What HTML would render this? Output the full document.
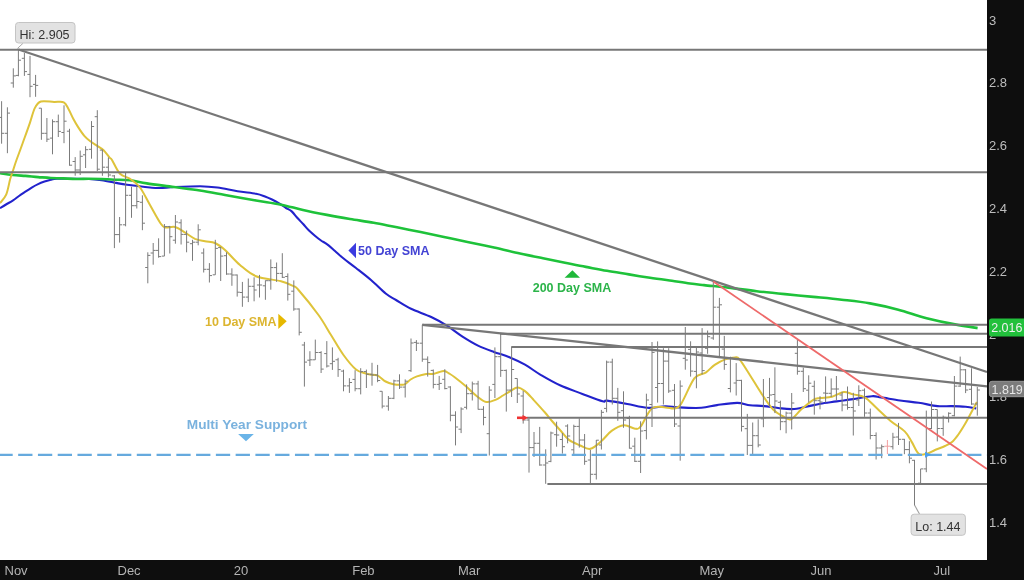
<!DOCTYPE html>
<html><head><meta charset="utf-8"><style>
html,body{margin:0;padding:0;background:#fff;}
body{width:1024px;height:580px;overflow:hidden;position:relative;font-family:"Liberation Sans",sans-serif;}
svg{position:absolute;left:0;top:0;will-change:transform;}
</style></head><body>
<svg width="1024" height="580" viewBox="0 0 1024 580">
<rect x="0" y="0" width="1024" height="580" fill="#ffffff"/>
<path d="M0.0 208.2C1.0 207.6 3.9 205.8 6.0 204.5C8.1 203.2 10.5 202.0 12.7 200.6C14.9 199.2 16.9 197.5 19.0 196.0C21.1 194.5 23.3 193.1 25.4 191.7C27.5 190.3 29.6 188.9 31.7 187.6C33.8 186.3 36.0 185.1 38.1 184.1C40.2 183.1 42.4 182.3 44.5 181.6C46.6 180.9 48.7 180.2 50.8 179.7C52.9 179.2 52.9 179.0 57.1 178.8C61.3 178.7 70.9 178.8 76.2 178.8C81.5 178.8 84.7 178.8 88.9 179.0C93.1 179.2 97.4 179.7 101.6 180.3C105.8 180.9 110.1 181.8 114.3 182.6C118.5 183.3 121.0 184.0 127.0 184.8C132.9 185.6 144.5 187.0 150.0 187.5C155.5 188.0 155.8 188.1 160.0 188.0C164.2 187.9 168.3 187.3 175.0 187.0C181.7 186.7 192.9 186.2 200.0 186.2C207.1 186.3 211.2 186.7 217.5 187.5C223.8 188.3 231.1 190.2 237.5 191.2C243.9 192.3 251.4 192.9 256.0 193.8C260.6 194.6 262.3 195.5 265.0 196.5C267.7 197.5 269.5 198.3 272.0 199.5C274.5 200.7 277.7 202.5 280.0 203.9C282.3 205.3 284.1 206.8 286.0 208.0C287.9 209.2 289.9 209.8 291.7 211.4C293.5 213.0 295.1 215.3 297.0 217.5C298.9 219.7 301.4 222.1 303.4 224.3C305.4 226.5 307.0 228.6 309.0 230.5C311.0 232.4 313.2 234.3 315.2 236.0C317.2 237.7 319.1 239.1 321.0 240.5C322.9 241.9 324.6 242.4 326.9 244.2C329.2 245.9 332.3 248.7 335.0 251.0C337.7 253.3 339.8 255.5 343.3 258.3C346.8 261.1 351.4 264.4 356.0 268.0C360.6 271.6 366.0 275.7 371.0 280.0C376.0 284.3 381.8 290.4 386.0 293.8C390.2 297.1 391.8 297.5 396.0 300.0C400.2 302.5 405.1 305.9 411.0 308.8C416.9 311.6 425.3 314.2 431.2 317.0C437.2 319.8 441.7 322.3 446.9 325.6C452.1 328.9 457.3 333.3 462.5 336.6C467.7 339.9 472.8 343.1 478.0 345.6C483.2 348.2 488.5 350.0 493.8 351.9C499.0 353.8 504.2 355.1 509.4 357.2C514.6 359.3 519.8 361.8 525.0 364.7C530.2 367.6 534.8 371.4 540.6 374.8C546.4 378.2 553.0 382.1 560.0 385.3C567.0 388.5 575.3 391.2 582.4 393.9C589.5 396.6 598.5 400.2 602.6 401.3C606.7 402.4 602.9 400.2 607.0 400.6C611.1 401.1 620.6 402.8 627.3 404.0C634.0 405.2 641.0 407.4 647.4 407.8C653.8 408.2 660.2 406.3 665.4 406.2C670.6 406.1 672.8 407.1 678.8 407.4C684.8 407.7 694.9 408.2 701.3 407.8C707.7 407.4 711.0 405.9 717.0 405.1C723.0 404.3 731.6 402.9 737.1 402.9C742.6 402.9 745.5 404.7 750.0 405.2C754.5 405.7 759.3 405.6 764.0 406.1C768.7 406.6 773.4 407.5 778.1 408.0C782.8 408.5 787.5 409.3 792.2 409.1C796.9 408.9 801.5 407.7 806.2 406.8C810.9 405.9 815.2 404.6 820.3 403.7C825.4 402.8 831.2 402.2 836.7 401.4C842.2 400.6 847.2 400.0 853.1 399.1C859.0 398.2 867.2 396.5 871.9 396.2C876.6 395.9 876.5 396.7 881.2 397.4C885.9 398.1 893.8 399.6 900.0 400.5C906.2 401.4 912.5 401.9 918.7 402.8C925.0 403.7 932.0 405.6 937.5 406.1C943.0 406.7 946.8 406.0 951.5 406.1C956.2 406.2 961.5 406.4 965.6 406.8C969.7 407.2 974.4 408.1 976.2 408.4" fill="none" stroke="#2222cc" stroke-width="2.1" stroke-linejoin="round"/>
<path d="M0.0 173.3C2.1 173.6 8.5 174.6 12.7 175.0C16.9 175.4 21.2 175.6 25.4 175.9C29.6 176.2 33.9 176.8 38.1 177.1C42.3 177.4 46.6 177.8 50.8 178.0C55.0 178.2 59.3 178.2 63.5 178.4C67.7 178.6 72.0 178.9 76.2 179.0C80.4 179.1 84.7 178.8 88.9 178.8C93.1 178.8 97.4 178.8 101.6 179.0C105.8 179.2 109.6 179.5 114.3 179.7C119.0 179.9 124.6 179.7 130.0 180.3C135.4 180.9 139.5 182.3 146.8 183.4C154.1 184.5 165.1 185.8 174.0 187.0C182.9 188.2 191.5 189.2 200.0 190.5C208.5 191.8 215.7 193.3 225.0 195.0C234.3 196.7 246.8 198.9 256.0 200.5C265.2 202.1 272.2 202.8 280.0 204.4C287.8 206.0 295.2 208.2 303.0 210.0C310.8 211.8 319.1 213.4 326.9 214.9C334.7 216.4 342.2 217.7 350.0 219.0C357.8 220.3 365.9 221.3 373.7 222.7C381.5 224.1 389.2 225.8 397.0 227.3C404.8 228.9 412.8 230.4 420.6 232.0C428.4 233.6 436.2 235.3 444.0 237.0C451.8 238.7 459.2 240.2 467.5 241.9C475.8 243.7 485.2 245.6 494.0 247.5C502.8 249.4 511.8 251.8 520.0 253.6C528.2 255.4 535.5 256.8 543.0 258.3C550.5 259.8 557.9 261.4 565.0 262.8C572.1 264.2 578.9 265.6 585.9 266.9C592.9 268.2 599.8 269.6 607.0 270.8C614.2 272.1 621.7 273.2 628.9 274.4C636.1 275.6 642.8 276.7 650.0 277.8C657.2 278.9 665.2 279.9 671.9 280.8C678.6 281.8 684.6 282.8 690.0 283.5C695.4 284.2 697.6 284.4 704.0 285.1C710.4 285.8 719.5 286.6 728.3 287.6C737.1 288.6 747.2 290.1 756.7 291.2C766.2 292.3 775.6 293.2 785.0 294.1C794.4 295.1 803.9 296.0 813.3 296.9C822.7 297.8 832.1 298.6 841.6 299.7C851.1 300.8 860.5 301.7 870.0 303.4C879.5 305.1 888.9 307.2 898.3 309.7C907.7 312.2 917.1 315.8 926.6 318.2C936.1 320.6 946.5 322.8 955.0 324.4C963.5 326.0 973.8 327.5 977.6 328.1" fill="none" stroke="#1ec23a" stroke-width="2.6" stroke-linejoin="round"/>
<path d="M0.0 203.2C1.1 201.7 4.6 198.3 6.3 194.3C8.0 190.3 9.1 182.8 10.2 179.0C11.3 175.2 11.6 174.6 12.7 171.4C13.8 168.2 14.9 164.4 16.5 160.0C18.1 155.6 19.8 151.2 22.0 145.0C24.2 138.8 27.9 128.8 30.0 122.6C32.1 116.4 33.0 111.6 34.8 108.1C36.6 104.6 37.7 102.5 40.9 101.5C44.1 100.5 50.3 101.9 54.1 102.0C57.9 102.1 61.4 101.1 63.8 102.3C66.2 103.5 67.0 106.5 68.6 109.3C70.2 112.1 71.8 116.0 73.4 119.0C75.0 122.0 76.5 124.6 78.3 127.4C80.1 130.2 82.3 133.5 84.3 135.8C86.3 138.1 88.1 139.6 90.3 141.3C92.5 143.0 95.4 144.6 97.6 146.1C99.8 147.6 101.6 148.4 103.6 150.3C105.6 152.2 108.2 156.0 109.6 157.6C111.0 159.2 110.3 157.3 112.0 160.0C113.7 162.7 117.0 170.6 120.0 173.8C123.0 176.9 126.7 176.5 130.0 178.8C133.3 181.0 136.7 183.1 140.0 187.5C143.3 191.9 146.7 199.2 150.0 205.0C153.3 210.8 157.5 218.8 160.0 222.5C162.5 226.2 162.5 226.8 165.0 227.5C167.5 228.2 171.7 226.2 175.0 227.0C178.3 227.8 181.7 230.5 185.0 232.5C188.3 234.5 191.7 237.3 195.0 238.8C198.3 240.2 201.7 240.5 205.0 241.2C208.3 242.0 211.7 241.5 215.0 243.0C218.3 244.5 220.8 246.3 225.0 250.0C229.2 253.7 234.8 260.6 240.0 265.0C245.2 269.4 249.2 273.5 256.0 276.2C262.8 279.0 274.8 279.6 281.0 281.2C287.2 282.9 290.6 284.8 293.5 286.2C296.4 287.7 294.3 285.2 298.5 290.0C302.7 294.8 313.1 307.5 318.5 315.0C323.9 322.5 326.8 328.3 331.0 335.0C335.2 341.7 339.3 349.2 343.5 355.0C347.7 360.8 352.2 366.4 356.0 369.5C359.8 372.6 363.7 372.7 366.0 373.5C368.3 374.3 368.0 374.1 370.0 374.5C372.0 374.9 375.2 374.4 377.8 375.6C380.4 376.8 383.0 380.1 385.6 381.5C388.2 382.9 390.8 383.6 393.4 384.2C396.0 384.8 399.3 384.8 401.2 384.8C403.2 384.8 403.6 385.1 405.2 384.2C406.8 383.3 408.7 380.8 410.6 379.5C412.6 378.2 414.3 377.3 416.9 376.4C419.5 375.5 423.6 374.4 426.2 374.0C428.9 373.6 430.5 374.2 432.5 374.0C434.5 373.8 436.1 373.0 438.0 372.5C439.9 372.0 442.2 370.8 444.2 371.0C446.2 371.2 448.2 373.0 450.0 374.0C451.8 375.0 452.1 375.2 454.7 377.2C457.3 379.2 462.0 382.9 465.6 386.0C469.2 389.1 473.2 393.3 476.6 396.0C480.1 398.7 483.1 401.4 486.3 402.0C489.5 402.6 493.2 400.7 496.0 399.6C498.8 398.5 500.6 396.9 503.0 395.5C505.4 394.1 508.0 392.4 510.4 391.1C512.8 389.8 515.1 387.5 517.5 387.5C519.9 387.5 522.5 389.2 525.0 391.1C527.5 393.0 529.5 395.4 532.8 399.0C536.1 402.6 541.8 408.8 545.0 412.5C548.2 416.2 549.5 418.1 552.0 421.0C554.5 423.9 557.2 426.9 560.0 430.0C562.8 433.1 565.6 437.3 569.0 439.9C572.4 442.5 576.7 444.0 580.2 445.5C583.8 447.0 586.8 449.6 590.3 448.8C593.8 448.1 598.0 444.0 601.5 441.0C605.0 438.0 607.9 433.5 611.6 430.9C615.3 428.3 620.0 425.7 623.9 425.3C627.8 424.9 632.3 428.5 635.1 428.7C637.9 428.9 637.9 429.8 640.7 426.4C643.5 423.0 647.8 411.7 651.9 408.5C656.0 405.3 661.7 407.4 665.4 407.4C669.1 407.4 671.7 409.1 674.3 408.5C676.9 407.9 677.6 409.1 681.0 404.0C684.4 398.9 690.4 383.4 694.5 378.2C698.6 373.0 702.3 374.8 705.7 372.6C709.1 370.4 711.3 367.1 714.7 364.8C718.1 362.6 722.5 360.3 725.9 359.1C729.3 357.9 732.6 357.4 734.9 357.4C737.1 357.4 736.9 356.1 739.4 359.1C741.9 362.1 746.3 369.4 750.0 375.2C753.7 381.0 757.8 388.1 761.7 393.9C765.6 399.7 769.9 406.1 773.4 409.8C776.9 413.5 779.9 414.6 782.8 416.2C785.7 417.8 787.9 420.4 791.0 419.2C794.1 418.0 797.9 412.3 801.6 409.1C805.3 405.9 810.2 401.6 813.3 399.8C816.4 398.0 817.2 398.6 820.3 398.1C823.4 397.6 828.1 397.7 832.0 396.7C835.9 395.7 840.2 392.4 843.7 392.0C847.2 391.6 849.6 393.5 853.1 394.4C856.6 395.3 860.9 395.1 864.8 397.4C868.7 399.7 872.3 404.1 876.6 408.0C880.9 411.9 885.9 417.0 890.6 420.9C895.3 424.8 901.2 427.9 904.7 431.4C908.2 434.9 909.4 438.2 911.7 441.9C914.0 445.6 916.2 451.7 918.7 453.7C921.2 455.7 924.2 454.3 926.9 453.7C929.6 453.1 932.0 451.3 935.0 450.0C938.0 448.7 942.2 447.3 945.0 446.0C947.8 444.7 949.8 443.8 952.0 442.0C954.2 440.2 955.8 438.0 958.0 435.0C960.2 432.0 962.8 427.7 965.0 424.0C967.2 420.3 969.0 416.6 971.0 413.0C973.0 409.4 975.9 403.9 976.9 402.1" fill="none" stroke="#dec33a" stroke-width="2" stroke-linejoin="round"/>
<g fill="none" stroke="#7b7b7b" stroke-width="1">
<path d="M1.6 101.2V143.7M-1.0 117.4H1.6M1.6 133.3H4.2M7.4 107.3V153.2M4.8 133.3H7.4M7.4 113.1H10.0M13.3 68.3V87.7M10.7 83.0H13.3M13.3 75.9H15.9M18.4 48.8V76.3M15.8 75.4H18.4M18.4 60.2H21.0M24.4 53.0V75.9M21.8 58.3H24.4M24.4 71.6H27.0M30.0 55.9V97.2M27.4 74.4H30.0M30.0 86.3H32.6M35.6 74.9V96.8M33.0 84.4H35.6M35.6 85.4H38.2M41.4 108.2V139.8M38.8 108.2H41.4M41.4 133.3H44.0M46.9 118.0V142.0M44.3 133.3H46.9M46.9 139.2H49.5M52.5 119.4V154.3M49.9 138.1H52.5M52.5 121.7H55.1M58.3 114.6V137.0M55.7 121.7H58.3M58.3 131.4H60.9M64.0 105.3V143.2M61.4 132.5H64.0M64.0 121.2H66.6M69.5 128.8V165.7M66.9 131.2H69.5M69.5 165.2H72.1M75.2 157.1V175.7M72.6 161.5H75.2M75.2 170.0H77.8M80.2 150.6V175.0M77.6 170.0H80.2M80.2 156.3H82.8M85.6 146.2V168.0M83.0 154.8H85.6M85.6 149.7H88.2M91.5 121.1V158.7M88.9 149.3H91.5M91.5 126.5H94.1M97.3 110.2V171.1M94.7 116.7H97.3M97.3 169.2H99.9M102.4 149.7V175.8M99.8 150.1H102.4M102.4 167.2H105.0M108.4 157.4V177.4M105.8 167.2H108.4M108.4 175.0H111.0M114.4 175.1V248.1M111.8 175.9H114.4M114.4 234.6H117.0M119.6 217.0V242.6M117.0 234.6H119.6M119.6 224.8H122.2M125.6 172.5V226.3M123.0 224.8H125.6M125.6 195.3H128.2M131.5 186.7V217.8M128.9 195.3H131.5M131.5 205.7H134.1M136.8 185.2V208.5M134.2 205.7H136.8M136.8 201.5H139.4M142.4 195.3V230.2M139.8 202.3H142.4M142.4 223.2H145.0M147.8 252.3V283.3M145.2 267.5H147.8M147.8 255.4H150.4M153.2 243.0V264.7M150.6 253.0H153.2M153.2 250.4H155.8M158.6 238.3V257.7M156.0 250.4H158.6M158.6 256.6H161.2M164.4 224.0V256.1M161.8 256.1H164.4M164.4 226.6H167.0M169.8 225.9V253.5M167.2 226.6H169.8M169.8 236.7H172.4M175.4 215.0V243.7M172.8 240.2H175.4M175.4 222.0H178.0M181.1 219.3V244.5M178.5 222.8H181.1M181.1 234.4H183.7M186.6 230.5V252.3M184.0 234.4H186.6M186.6 242.2H189.2M192.5 239.8V260.8M189.9 243.7H192.5M192.5 242.2H195.1M198.2 224.3V245.3M195.6 242.2H198.2M198.2 229.8H200.8M203.7 248.4V272.5M201.1 253.0H203.7M203.7 269.3H206.3M209.4 263.1V282.5M206.8 269.3H209.4M209.4 275.6H212.0M215.3 239.8V274.8M212.7 274.8H215.3M215.3 248.4H217.9M220.7 246.8V281.0M218.1 247.6H220.7M220.7 256.1H223.3M226.5 252.3V274.8M223.9 255.7H226.5M226.5 274.0H229.1M231.9 268.3V285.8M229.3 274.0H231.9M231.9 275.0H234.5M237.2 274.5V296.6M234.6 275.0H237.2M237.2 292.2H239.8M242.4 281.9V306.8M239.8 292.5H242.4M242.4 297.1H245.0M248.3 278.5V302.1M245.7 297.1H248.3M248.3 286.3H250.9M254.1 277.3V301.3M251.5 286.3H254.1M254.1 290.0H256.7M259.5 274.9V297.5M256.9 285.0H259.5M259.5 285.0H262.1M265.4 280.4V299.8M262.8 285.8H265.4M265.4 280.7H268.0M270.8 259.4V289.7M268.2 280.7H270.8M270.8 267.6H273.4M276.6 262.5V281.9M274.0 267.6H276.6M276.6 273.4H279.2M282.3 253.2V278.0M279.7 273.4H282.3M282.3 277.3H284.9M287.8 273.4V300.6M285.2 276.5H287.8M287.8 294.3H290.4M293.8 280.4V310.8M291.2 291.2H293.8M293.8 309.0H296.4M299.2 308.4V335.4M296.6 309.0H299.2M299.2 332.3H301.8M304.4 341.9V386.6M301.8 345.0H304.4M304.4 362.1H307.0M309.9 351.2V366.0M307.3 360.2H309.9M309.9 359.8H312.5M315.3 339.6V359.8M312.7 359.8H315.3M315.3 352.5H317.9M321.1 351.2V373.0M318.5 352.5H321.1M321.1 369.1H323.7M326.8 341.1V367.5M324.2 353.6H326.8M326.8 366.0H329.4M332.4 347.4V369.9M329.8 363.7H332.4M332.4 361.3H335.0M338.1 357.8V376.9M335.5 359.8H338.1M338.1 369.6H340.7M343.5 369.7V391.3M340.9 371.1H343.5M343.5 385.9H346.1M349.4 378.2V392.9M346.8 385.9H349.4M349.4 382.5H352.0M355.1 370.2V391.3M352.5 379.4H355.1M355.1 388.7H357.7M360.7 368.2V394.4M358.1 388.7H360.7M360.7 371.6H363.3M366.4 369.6V388.0M363.8 371.6H366.4M366.4 374.3H369.0M372.0 362.8V385.7M369.4 374.3H372.0M372.0 375.0H374.6M377.6 364.9V382.2M375.0 375.0H377.6M377.6 380.5H380.2M382.2 391.3V408.4M379.6 391.3H382.2M382.2 406.1H384.8M388.4 396.0V410.7M385.8 406.1H388.4M388.4 398.3H391.0M393.9 379.7V399.1M391.3 398.3H393.9M393.9 380.9H396.5M399.5 374.3V389.0M396.9 380.9H399.5M399.5 387.1H402.1M405.2 379.4V397.5M402.6 387.1H405.2M405.2 381.2H407.8M411.0 338.5V371.9M408.4 370.7H411.0M411.0 343.0H413.6M416.4 340.1V351.0M413.8 342.4H416.4M416.4 343.2H419.0M422.3 324.8V361.8M419.7 343.2H422.3M422.3 359.2H424.9M427.7 356.4V376.6M425.1 359.2H427.7M427.7 362.6H430.3M433.3 369.5V388.4M430.7 370.4H433.3M433.3 384.4H435.9M439.2 375.9V390.0M436.6 384.4H439.2M439.2 383.4H441.8M444.8 369.2V389.3M442.2 379.3H444.8M444.8 388.6H447.4M450.4 386.2V421.3M447.8 387.0H450.4M450.4 415.3H453.0M455.5 411.3V445.4M452.9 415.3H455.5M455.5 427.0H458.1M461.1 407.3V433.1M458.5 429.2H461.1M461.1 409.0H463.7M466.6 384.4V409.4M464.0 407.3H466.6M466.6 393.7H469.2M472.3 381.6V400.5M469.7 393.7H472.3M472.3 383.9H474.9M478.1 380.8V409.6M475.5 383.9H478.1M478.1 409.3H480.7M483.5 406.2V425.3M480.9 409.3H483.5M483.5 417.4H486.1M489.3 386.2V455.5M486.7 433.7H489.3M489.3 390.1H491.9M494.9 347.4V398.0M492.3 384.4H494.9M494.9 356.7H497.5M500.7 333.8V376.9M498.1 356.7H500.7M500.7 370.4H503.3M506.3 369.5V411.6M503.7 370.4H506.3M506.3 390.1H508.9M511.6 347.0V397.0M509.0 390.1H511.6M511.6 369.5H514.2M517.3 378.5V403.0M514.7 378.5H517.3M517.3 394.0H519.9M523.2 390.9V423.6M520.6 396.0H523.2M523.2 420.0H525.8M529.0 418.5V472.6M526.4 420.0H529.0M529.0 447.6H531.6M534.0 432.0V457.0M531.4 447.6H534.0M534.0 443.3H536.6M539.7 426.9V465.7M537.1 443.3H539.7M539.7 465.0H542.3M545.7 449.3V483.8M543.1 465.0H545.7M545.7 463.0H548.3M550.9 431.6V462.2M548.3 461.4H550.9M550.9 433.0H553.5M556.6 421.7V446.7M554.0 434.7H556.6M556.6 435.0H559.2M562.4 433.0V453.6M559.8 439.5H562.4M562.4 446.7H565.0M567.6 424.3V443.3M565.0 426.0H567.6M567.6 436.0H570.2M573.8 424.7V454.5M571.2 449.8H573.8M573.8 426.4H576.4M579.3 418.3V447.6M576.7 426.4H579.3M579.3 440.0H581.9M584.6 434.0V464.8M582.0 440.0H584.6M584.6 461.3H587.2M590.4 449.8V483.8M587.8 460.0H590.4M590.4 474.3H593.0M596.3 440.0V479.5M593.7 474.3H596.3M596.3 440.2H598.9M601.4 409.9V449.5M598.8 445.0H601.4M601.4 412.3H604.0M606.6 360.6V412.3M604.0 408.4H606.6M606.6 362.1H609.2M612.3 358.7V404.5M609.7 362.1H612.3M612.3 398.3H614.9M617.8 387.9V420.8M615.2 398.3H617.8M617.8 412.3H620.4M623.5 391.3V427.8M620.9 410.7H623.5M623.5 420.0H626.1M629.4 415.8V448.6M626.8 418.5H629.4M629.4 448.2H632.0M634.8 437.7V462.0M632.2 446.2H634.8M634.8 461.3H637.4M640.6 421.3V473.0M638.0 461.3H640.6M640.6 431.0H643.2M646.4 393.7V439.4M643.8 430.6H646.4M646.4 400.0H649.0M652.0 342.0V427.0M649.4 404.5H652.0M652.0 352.4H654.6M657.6 341.4V402.6M655.0 387.5H657.6M657.6 383.5H660.2M663.4 348.2V404.5M660.8 383.5H663.4M663.4 361.1H666.0M668.7 348.2V392.9M666.1 361.1H668.7M668.7 391.0H671.3M674.5 384.0V427.0M671.9 390.3H674.5M674.5 424.0H677.1M680.2 380.4V460.7M677.6 426.0H680.2M680.2 386.1H682.8M685.3 327.0V369.7M682.7 358.3H685.3M685.3 360.0H687.9M690.6 341.3V376.6M688.0 349.4H690.6M690.6 371.1H693.2M696.4 347.5V388.3M693.8 371.4H696.4M696.4 352.0H699.0M702.1 328.1V374.5M699.5 353.0H702.1M702.1 370.6H704.7M707.6 330.5V353.8M705.0 348.3H707.6M707.6 336.7H710.2M713.3 281.5V339.8M710.7 338.0H713.3M713.3 307.2H715.9M719.4 297.9V356.4M716.8 307.2H719.4M719.4 304.8H722.0M724.3 335.9V369.8M721.7 349.1H724.3M724.3 364.4H726.9M730.4 356.7V392.4M727.8 388.5H730.4M730.4 358.2H733.0M736.2 363.1V395.5M733.6 383.0H736.2M736.2 380.4H738.8M741.5 379.8V431.5M738.9 380.4H741.5M741.5 426.4H744.1M747.3 413.9V455.0M744.7 428.7H747.3M747.3 445.4H749.9M752.7 422.5V455.0M750.1 445.4H752.7M752.7 435.7H755.3M758.2 419.3V447.3M755.6 435.7H758.2M758.2 445.0H760.8M763.4 379.0V427.2M760.8 418.8H763.4M763.4 417.8H766.0M769.5 377.9V406.9M766.9 397.6H769.5M769.5 395.0H772.1M774.9 367.3V413.1M772.3 394.5H774.9M774.9 401.0H777.5M780.4 400.7V430.2M777.8 402.3H780.4M780.4 421.7H783.0M786.1 411.6V433.3M783.5 421.7H786.1M786.1 413.1H788.7M791.7 393.0V429.4M789.1 413.1H791.7M791.7 403.0H794.3M797.4 339.8V374.7M794.8 353.3H797.4M797.4 371.3H800.0M803.3 367.7V392.0M800.7 371.3H803.3M803.3 388.7H805.9M808.7 375.3V402.5M806.1 390.2H808.7M808.7 383.2H811.3M814.3 380.7V414.7M811.7 386.3H814.3M814.3 400.7H816.9M820.0 396.2V409.3M817.4 400.7H820.0M820.0 402.0H822.6M825.6 376.4V402.5M823.0 393.0H825.6M825.6 393.3H828.2M831.2 378.4V397.0M828.6 393.3H831.2M831.2 389.0H833.8M836.4 376.0V400.5M833.8 389.0H836.4M836.4 389.0H839.0M842.1 391.8V411.3M839.5 395.0H842.1M842.1 405.0H844.7M847.5 386.5V409.7M844.9 405.0H847.5M847.5 407.5H850.1M853.3 392.8V435.5M850.7 407.5H853.3M853.3 411.0H855.9M858.8 385.3V406.0M856.2 400.0H858.8M858.8 390.7H861.4M864.5 388.4V416.8M861.9 390.2H864.5M864.5 413.0H867.1M870.3 408.6V439.3M867.7 413.0H870.3M870.3 435.5H872.9M876.1 432.4V459.5M873.5 435.5H876.1M876.1 448.0H878.7M881.7 444.5V458.2M879.1 448.0H881.7M881.7 446.7H884.3M892.9 432.8V449.5M890.3 446.7H892.9M892.9 437.2H895.5M898.5 422.9V445.0M895.9 437.0H898.5M898.5 439.3H901.1M904.4 438.9V454.2M901.8 439.3H904.4M904.4 449.6H907.0M909.4 441.2V463.3M906.8 449.6H909.4M909.4 458.2H912.0M914.5 459.9V505.5M911.9 460.3H914.5M914.5 483.5H917.1M920.6 468.9V483.8M918.0 483.2H920.6M920.6 468.9H923.2M926.3 410.6V472.2M923.7 468.9H926.3M926.3 428.5H928.9M931.5 401.5V429.1M928.9 428.5H931.5M931.5 409.5H934.1M937.3 409.5V441.4M934.7 409.5H937.3M937.3 428.5H939.9M943.2 415.6V435.8M940.6 428.5H943.2M943.2 417.3H945.8M948.6 412.3V422.5M946.0 418.4H948.6M948.6 413.3H951.2M954.4 376.0V416.3M951.8 415.7H954.4M954.4 386.1H957.0M960.2 356.6V386.9M957.6 386.1H960.2M960.2 369.8H962.8M965.6 369.1V393.1M963.0 369.8H965.6M965.6 390.0H968.2M971.5 368.3V404.8M968.9 389.3H971.5M971.5 404.0H974.1M977.3 386.9V415.7M974.7 404.0H977.3M977.3 390.0H979.9"/>
</g>
<path d="M887.4 440V454.1M884.4 446.2H890.4" stroke="#f2a0a0" stroke-width="1" fill="none"/>
<line x1="0" y1="454.8" x2="987" y2="454.8" stroke="#66aade" stroke-width="2.3" stroke-dasharray="14.3 5.47" stroke-dashoffset="1.6"/>
<g stroke="#777777" stroke-width="2" fill="none">
<line x1="0" y1="49.8" x2="987" y2="49.8"/>
<line x1="0" y1="172.3" x2="987" y2="172.3"/>
<line x1="422.3" y1="324.8" x2="987" y2="324.8"/>
<line x1="500" y1="333.75" x2="987" y2="333.75"/>
<line x1="511.25" y1="347" x2="987" y2="347"/>
<line x1="526.7" y1="417.8" x2="987" y2="417.8"/>
<line x1="547.4" y1="484.1" x2="987" y2="484.1"/>
<line x1="18.4" y1="49.5" x2="987" y2="372" stroke-width="2.3"/>
<line x1="422.3" y1="324.8" x2="987" y2="386.3" stroke-width="2.3"/>
</g>
<line x1="713.25" y1="281.5" x2="987" y2="469" stroke="#ee6a6a" stroke-width="1.8"/>
<!-- red arrow -->
<path d="M517 417.8H523" stroke="#ee3333" stroke-width="2.6"/>
<polygon points="522.5,414.9 528.3,417.8 522.5,420.7" fill="#ee3333"/>
<!-- blue marker -->
<polygon points="925,451.8 931,454.8 925,457.8" fill="#4aa0f0"/>
<!-- labels -->
<polygon points="348.4,250.4 356,242.7 356,258.2" fill="#3b3be0"/>
<text x="358" y="254.8" font-family="Liberation Sans, sans-serif" font-weight="bold" font-size="12.5" fill="#4444d4">50 Day SMA</text>
<polygon points="572.4,270.2 580,277.7 564.6,277.7" fill="#1fb83a"/>
<text x="532.7" y="291.7" font-family="Liberation Sans, sans-serif" font-weight="bold" font-size="12.5" fill="#2cb44a">200 Day SMA</text>
<text x="205" y="326.1" font-family="Liberation Sans, sans-serif" font-weight="bold" font-size="12.5" fill="#dcb530">10 Day SMA</text>
<polygon points="278.3,313.7 286.7,321.3 278.3,329" fill="#e6b800"/>
<text x="186.8" y="428.5" font-family="Liberation Sans, sans-serif" font-weight="bold" font-size="12.5" fill="#7ab2de" textLength="120.3" lengthAdjust="spacingAndGlyphs">Multi Year Support</text>
<polygon points="238.1,433.9 253.8,433.9 246,441.2" fill="#6ab4e8"/>
<!-- Hi label -->
<path d="M17.3 48.6 L23 43.3" stroke="#a8a8a8" stroke-width="1" fill="none"/>
<rect x="15.5" y="22.5" width="59.5" height="20.5" rx="3" ry="3" fill="#e2e2e2" stroke="#c4c4c4" stroke-width="1"/>
<text x="19.5" y="38.5" font-family="Liberation Sans, sans-serif" font-size="12.5" fill="#333333">Hi: 2.905</text>
<!-- Lo label -->
<path d="M914.5 505 L919.5 514" stroke="#a0a0a0" stroke-width="1.1" fill="none"/>
<rect x="911.1" y="514.2" width="54.3" height="21.1" rx="3" ry="3" fill="#e2e2e2" stroke="#c4c4c4" stroke-width="1"/>
<text x="915.3" y="530.5" font-family="Liberation Sans, sans-serif" font-size="12.5" fill="#333333">Lo: 1.44</text>
<!-- axes -->
<rect x="987" y="0" width="37" height="580" fill="#0e0e0e"/>
<rect x="0" y="560" width="1024" height="20" fill="#0e0e0e"/>
<g font-family="Liberation Sans, sans-serif" font-size="13" fill="#bdbdbd">
<text x="989" y="24.6">3</text>
<text x="989" y="87.4">2.8</text>
<text x="989" y="150.2">2.6</text>
<text x="989" y="213.0">2.4</text>
<text x="989" y="275.8">2.2</text>
<text x="989" y="338.6">2</text>
<text x="989" y="401.4">1.8</text>
<text x="989" y="464.2">1.6</text>
<text x="989" y="527.0">1.4</text>
</g>
<rect x="989" y="318.4" width="40" height="18" rx="2.5" fill="#22c03c"/>
<text x="991.2" y="331.8" font-family="Liberation Sans, sans-serif" font-size="12.5" fill="#f0f0f0">2.016</text>
<rect x="989.4" y="381.3" width="40" height="15.4" rx="2.5" fill="#7c7c7c" stroke="#959595" stroke-width="1"/>
<text x="991.5" y="394" font-family="Liberation Sans, sans-serif" font-size="12.5" fill="#e6e6e6">1.819</text>
<g font-family="Liberation Sans, sans-serif" font-size="13" fill="#b4b4b4">
<text x="4.5" y="575">Nov</text>
<text x="117.5" y="575">Dec</text>
<text x="233.7" y="575">20</text>
<text x="352.2" y="575">Feb</text>
<text x="458" y="575">Mar</text>
<text x="582" y="575">Apr</text>
<text x="699.5" y="575">May</text>
<text x="810.5" y="575">Jun</text>
<text x="933.5" y="575">Jul</text>
</g>
</svg>
</body></html>
